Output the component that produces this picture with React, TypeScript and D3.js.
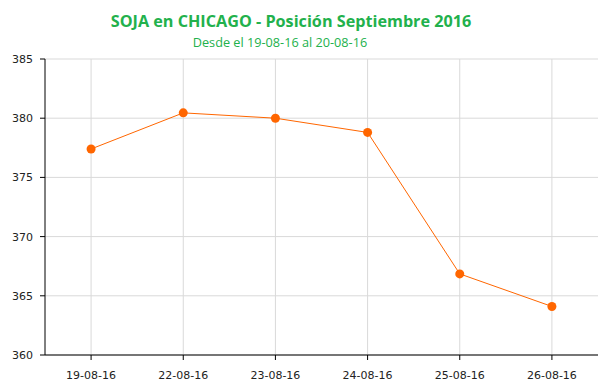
import React from "react";
import * as d3 from "d3";

const categories = ["19-08-16", "22-08-16", "23-08-16", "24-08-16", "25-08-16", "26-08-16"];
const values = [377.4, 380.45, 380.0, 378.8, 366.85, 364.1];
const yTicks = [360, 365, 370, 375, 380, 385];
const title = "SOJA en CHICAGO - Posición Septiembre 2016";
const subtitle = "Desde el 19-08-16 al 20-08-16";

export default function App() {
  const W = 603, H = 388;
  const left = 45, right = 598, top = 59, bottom = 355;
  const x = d3.scaleBand<string>().domain(categories).range([left, right]);
  const y = d3.scaleLinear().domain([360, 385]).range([bottom, top]);
  const cx = (c: string) => (x(c) as number) + x.bandwidth() / 2;
  const line = d3.line<number>().x((_, i) => cx(categories[i])).y((v) => y(v));
  const green = "#22b14c";
  const orange = "#ff6600";
  return (
    <svg width={W} height={H} style={{ position: "absolute", left: 0, top: 0 }}>
      <rect width={W} height={H} fill="#fff" />
      <text x={291} y={27} textAnchor="middle" fontFamily="Open Sans" fontWeight="bold" fontSize={16.2} fill={green}>{title}</text>
      <text x={280} y={47} textAnchor="middle" fontFamily="Open Sans" fontSize={12.7} fill={green}>{subtitle}</text>
      {yTicks.map((t) => (
        <g key={t}>
          <line x1={left} x2={right} y1={y(t)} y2={y(t)} stroke="#d9d9d9" strokeWidth={1} />
          <line x1={left - 5} x2={left} y1={y(t)} y2={y(t)} stroke="#000" />
          <text x={left - 12} y={y(t) + 4} textAnchor="end" fontFamily="DejaVu Sans" fontSize={11} fill="#222">{t}</text>
        </g>
      ))}
      {categories.map((c) => (
        <g key={c}>
          <line x1={cx(c)} x2={cx(c)} y1={top} y2={bottom} stroke="#d9d9d9" />
          <line x1={cx(c)} x2={cx(c)} y1={bottom} y2={bottom + 5} stroke="#000" />
          <text x={cx(c)} y={bottom + 24} textAnchor="middle" fontFamily="DejaVu Sans" fontSize={11} fill="#222">{c}</text>
        </g>
      ))}
      <line x1={left} x2={left} y1={top} y2={bottom} stroke="#000" />
      <line x1={left} x2={right} y1={bottom} y2={bottom} stroke="#000" />
      <path d={line(values) || ""} fill="none" stroke={orange} strokeWidth={1} />
      {values.map((v, i) => (
        <circle key={i} cx={cx(categories[i])} cy={y(v)} r={4.5} fill={orange} />
      ))}
    </svg>
  );
}
